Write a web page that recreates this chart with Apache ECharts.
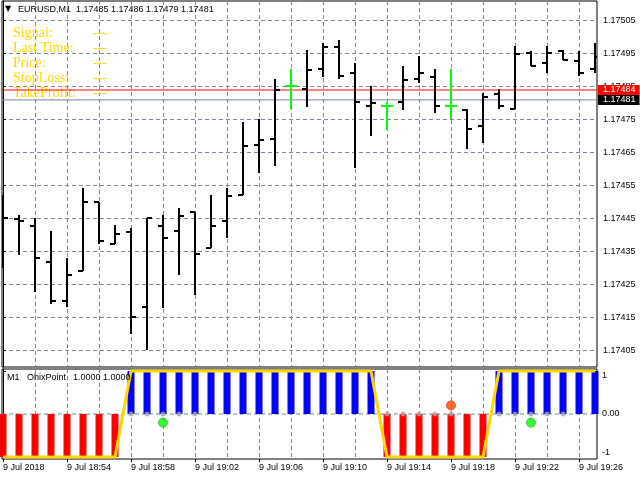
<!DOCTYPE html>
<html>
<head>
<meta charset="utf-8">
<script src="https://cdn.jsdelivr.net/npm/echarts@6/dist/echarts.min.js"></script>
<style>
html,body{margin:0;padding:0;background:#fff;}
#chart{width:640px;height:480px;}
</style>
</head>
<body>
<div id="chart"></div>
<script>
// ---- data (EURUSD M1, 9 Jul 2018 18:50 .. 19:27) ----
const times = ['18:50','18:51','18:52','18:53','18:54','18:55','18:56','18:57','18:58','18:59',
  '19:00','19:01','19:02','19:03','19:04','19:05','19:06','19:07','19:08','19:09',
  '19:10','19:11','19:12','19:13','19:14','19:15','19:16','19:17','19:18','19:19',
  '19:20','19:21','19:22','19:23','19:24','19:25','19:26','19:27'];
const openP  = [1.174470,1.174449,1.174429,1.174320,1.174202,1.174292,1.174502,1.174373,1.174411,1.174183,
  1.174429,1.174413,1.174471,1.174362,1.174444,1.174523,1.174673,1.174692,1.174852,1.174843,
  1.174904,1.174971,1.174891,1.174792,1.174792,1.174805,1.174873,1.174880,1.174792,1.174779,
  1.174731,1.174827,1.174783,1.174951,1.174923,1.174959,1.174929,1.174904];
const highP  = [1.174522,1.174461,1.174451,1.174413,1.174330,1.174542,1.174502,1.174431,1.174421,1.174451,
  1.174461,1.174482,1.174471,1.174522,1.174542,1.174742,1.174751,1.174872,1.174903,1.174961,
  1.174982,1.174992,1.174923,1.174852,1.174805,1.174913,1.174943,1.174903,1.174903,1.174782,
  1.174832,1.174842,1.174973,1.174959,1.174973,1.174961,1.174959,1.174982];
const lowP   = [1.174300,1.174340,1.174229,1.174191,1.174182,1.174292,1.174373,1.174373,1.174100,1.174052,
  1.174178,1.174279,1.174219,1.174360,1.174391,1.174522,1.174589,1.174610,1.174782,1.174789,
  1.174880,1.174872,1.174603,1.174701,1.174719,1.174779,1.174860,1.174771,1.174751,1.174660,
  1.174680,1.174782,1.174782,1.174913,1.174891,1.174931,1.174882,1.174891];
const closeP = [1.174451,1.174443,1.174332,1.174202,1.174279,1.174502,1.174383,1.174403,1.174153,1.174451,
  1.174392,1.174459,1.174344,1.174428,1.174520,1.174671,1.174689,1.174840,1.174852,1.174901,
  1.174971,1.174883,1.174805,1.174802,1.174792,1.174870,1.174891,1.174792,1.174792,1.174722,
  1.174820,1.174792,1.174949,1.174914,1.174951,1.174931,1.174892,1.174940];
const askPrice = 1.17484;
const bidPrice = 1.17481;
const priceTicks = [1.17405,1.17415,1.17425,1.17435,1.17445,1.17455,1.17465,1.17475,1.17485,1.17495,1.17505];

// OhixPoint indicator
const trend = [-1,-1,-1,-1,-1,-1,-1,-1,
  1,1,1,1,1,1,1,1,1,1,1,1,1,1,1,1,
  -1,-1,-1,-1,-1,-1,-1,
  1,1,1,1,1,1,1];
const grayDotIdx = [8,9,10,11,12,24,25,26,27,28,31,32,33,34,35];
const buyDots = [[10,-0.2],[33,-0.2]];
const sellDots = [[28,0.2]];
const indTicks = [-1,0,1];

// time axis labels
const timeLabelIdx = [0,4,8,12,16,20,24,28,32,36];
const timeLabels = ['9 Jul 2018','9 Jul 18:54','9 Jul 18:58','9 Jul 19:02','9 Jul 19:06',
  '9 Jul 19:10','9 Jul 19:14','9 Jul 19:18','9 Jul 19:22','9 Jul 19:26'];
const gridIdx = [0,2,4,6,8,10,12,14,16,18,20,22,24,26,28,30,32,34,36];

const infoLabels = ['Signal:','Last Time:','Price:','StopLoss:','TakeProfit:'];
const infoValues = ['---','---','---','---','---'];
const titleText = 'EURUSD,M1  1.17485 1.17486 1.17479 1.17481';
const indTitle = ['M1','OhixPoint','1.0000 1.0000'];

// ---- build ----
const X_MIN = -0.0625, X_MAX = 37.125;
const ohlc = times.map((t, i) => [i, openP[i], highP[i], lowP[i], closeP[i]]);
const trendData = trend.map((v, i) => [i, v]);
const grayDots = grayDotIdx.map(i => [i, 0]);
const hLine = v => [[X_MIN, v], [X_MAX, v]];

const FONT = 'Liberation Sans';
const GRID_COLOR = '#778899';

function renderOHLC(params, api) {
  const i = api.value(0), o = api.value(1), h = api.value(2), l = api.value(3), c = api.value(4);
  const pH = api.coord([i, h]), pL = api.coord([i, l]);
  const pO = api.coord([i, o]), pC = api.coord([i, c]);
  const doji = o === c;
  const color = doji ? '#00FF00' : '#000000';
  const t = doji ? 5 : 4;
  const x = Math.round(pH[0]);
  const yH = Math.round(pH[1]), yL = Math.round(pL[1]);
  const yO = Math.round(pO[1]), yC = Math.round(pC[1]);
  return {
    type: 'group',
    children: [
      { type: 'rect', shape: { x: x - 1, y: yH, width: 2, height: Math.max(2, yL - yH) }, style: { fill: color } },
      { type: 'rect', shape: { x: x - 1 - t, y: yO - 1, width: t + 1, height: 2 }, style: { fill: color } },
      { type: 'rect', shape: { x: x, y: yC - 1, width: t + 1, height: 2 }, style: { fill: color } }
    ]
  };
}

const graphics = [
  { type: 'text', left: 5, top: 5, style: { text: '▼', fontSize: 8, fill: '#000', fontFamily: 'DejaVu Sans' }, z: 20 },
  { type: 'text', left: 18, top: 5, style: { text: titleText, fontSize: 9, fill: '#000', fontFamily: FONT }, z: 20 },
  { type: 'text', left: 7, top: 373, style: { text: indTitle[0], fontSize: 9, fill: '#000', fontFamily: FONT }, z: 20 },
  { type: 'text', left: 27, top: 373, style: { text: indTitle[1], fontSize: 9, fill: '#000', fontFamily: FONT }, z: 20 },
  { type: 'text', left: 73, top: 373, style: { text: indTitle[2], fontSize: 9, fill: '#000', fontFamily: FONT }, z: 20 }
];
infoLabels.forEach((s, k) => {
  graphics.push({ type: 'text', left: 13, top: 26 + k * 15,
    style: { text: s, fontSize: 14, fill: '#FFD700', fontFamily: 'Liberation Serif' }, z: 1 });
  graphics.push({ type: 'text', left: 93, top: 26 + k * 15,
    style: { text: infoValues[k], fontSize: 14, fill: '#FFD700', fontFamily: 'Liberation Serif' }, z: 1 });
});

const priceLabel = (v, bg) => ({
  show: true, formatter: v.toFixed(5), distance: 1,
  backgroundColor: bg, color: '#fff', fontSize: 9, fontFamily: FONT, padding: [1, 4, 0, 5]
});

const chart = echarts.init(document.getElementById('chart'), null, { renderer: 'canvas' });
chart.setOption({
  animation: false,
  backgroundColor: '#fff',
  textStyle: { fontFamily: FONT },
  graphic: graphics,
  grid: [
    { left: 2, top: 1, width: 595, height: 366, show: true, borderColor: '#000', borderWidth: 1, backgroundColor: '#fff', z: 0 },
    { left: 2, top: 369, width: 595, height: 90, show: true, borderColor: '#000', borderWidth: 1, backgroundColor: '#fff', z: 0 }
  ],
  xAxis: [
    { type: 'value', gridIndex: 0, min: X_MIN, max: X_MAX,
      axisLine: { show: false }, axisLabel: { show: false },
      axisTick: { show: false, customValues: gridIdx },
      splitLine: { show: true, lineStyle: { color: GRID_COLOR, type: [4, 3], width: 1 } } },
    { type: 'value', gridIndex: 1, min: X_MIN, max: X_MAX,
      axisLine: { show: false },
      axisTick: { show: false, customValues: gridIdx },
      axisLabel: { show: true, customValues: timeLabelIdx, align: 'left', margin: 4,
        fontSize: 9, color: '#000', fontFamily: FONT,
        formatter: v => timeLabels[timeLabelIdx.indexOf(Math.round(v))] || '' },
      splitLine: { show: true, lineStyle: { color: GRID_COLOR, type: [4, 3], width: 1 } } },
    { type: 'value', gridIndex: 1, min: X_MIN, max: X_MAX, position: 'bottom',
      axisLine: { show: false }, axisLabel: { show: false }, splitLine: { show: false },
      axisTick: { show: true, customValues: timeLabelIdx, length: 3, lineStyle: { color: '#000' } } }
  ],
  yAxis: [
    { type: 'value', gridIndex: 0, position: 'right', min: 1.1740006, max: 1.1751097, scale: true,
      axisLine: { show: true, lineStyle: { color: '#000' } },
      axisTick: { show: true, length: 3, customValues: priceTicks, lineStyle: { color: '#000' } },
      axisLabel: { show: true, customValues: priceTicks, margin: 6, fontSize: 9, color: '#000', fontFamily: FONT,
        formatter: v => v.toFixed(5) },
      splitLine: { show: true, lineStyle: { color: GRID_COLOR, type: [4, 3], width: 1 } } },
    { type: 'value', gridIndex: 1, position: 'right', min: -1.0465, max: 1.0465,
      axisLine: { show: true, lineStyle: { color: '#000' } },
      axisTick: { show: true, length: 3, customValues: indTicks, lineStyle: { color: '#000' } },
      axisLabel: { show: true, customValues: indTicks, margin: 5, fontSize: 9, color: '#000', fontFamily: FONT,
        verticalAlignMinLabel: 'bottom', verticalAlignMaxLabel: 'top',
        formatter: v => (v === 0 ? '0.00' : String(v)) },
      splitLine: { show: false } }
  ],
  series: [
    { type: 'line', name: 'bid', xAxisIndex: 0, yAxisIndex: 0, z: 3, silent: true,
      data: hLine(bidPrice), symbol: 'none', lineStyle: { color: '#778899', width: 1 },
      endLabel: priceLabel(bidPrice, '#000') },
    { type: 'line', name: 'ask', xAxisIndex: 0, yAxisIndex: 0, z: 4, silent: true,
      data: hLine(askPrice), symbol: 'none', lineStyle: { color: '#FF0000', width: 1 },
      endLabel: priceLabel(askPrice, '#FF0000') },
    { type: 'custom', name: 'EURUSD', xAxisIndex: 0, yAxisIndex: 0, clip: true, z: 5,
      renderItem: renderOHLC, encode: { x: 0, y: [1, 2, 3, 4] }, data: ohlc },
    { type: 'line', name: 'zeroLine', xAxisIndex: 1, yAxisIndex: 1, z: 1, silent: true,
      data: hLine(0), symbol: 'none', lineStyle: { color: GRID_COLOR, type: [4, 3], width: 1 } },
    { type: 'bar', name: 'trendBars', xAxisIndex: 1, yAxisIndex: 1, barWidth: 7, z: 2, clip: true,
      data: trendData,
      itemStyle: { color: p => (p.value[1] > 0 ? '#0000FF' : '#FF0000') } },
    { type: 'line', name: 'trendLine', xAxisIndex: 1, yAxisIndex: 1, data: trendData, z: 4,
      symbol: 'none', lineStyle: { color: '#FFD700', width: 3 }, clip: true },
    { type: 'scatter', name: 'zero', xAxisIndex: 1, yAxisIndex: 1, data: grayDots, z: 5,
      symbolSize: 5, itemStyle: { color: '#A8A8A8' } },
    { type: 'scatter', name: 'buy', xAxisIndex: 1, yAxisIndex: 1, data: buyDots, z: 6,
      symbolSize: 9, itemStyle: { color: '#00FF00', borderColor: '#22B822', borderWidth: 1 } },
    { type: 'scatter', name: 'sell', xAxisIndex: 1, yAxisIndex: 1, data: sellDots, z: 6,
      symbolSize: 9, itemStyle: { color: '#FF4500', borderColor: '#D83A10', borderWidth: 1 } }
  ]
});
</script>
</body>
</html>
